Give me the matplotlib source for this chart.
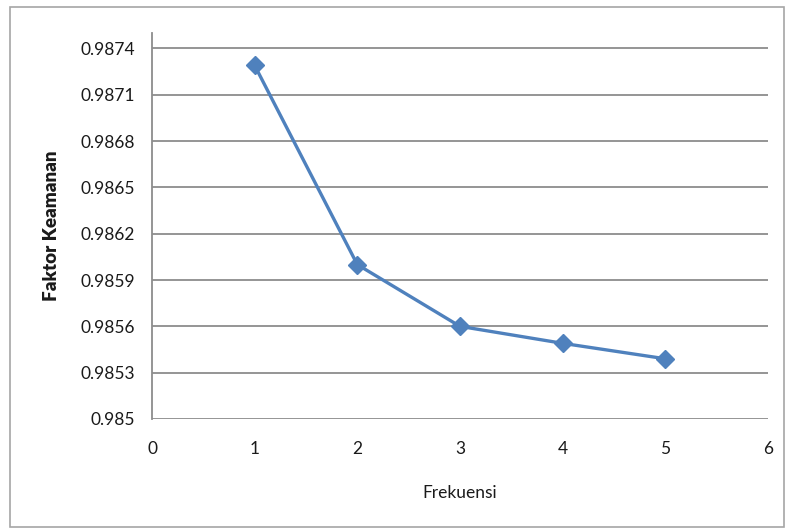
import numpy as np
import matplotlib.pyplot as plt
from matplotlib.patches import Rectangle

# Data
frekuensi = [1, 2, 3, 4, 5]
faktor_keamanan = [0.98729, 0.98600, 0.98560, 0.98549, 0.98539]
y_ticks = [0.985, 0.9853, 0.9856, 0.9859, 0.9862, 0.9865, 0.9868, 0.9871, 0.9874]
y_tick_labels = ['0.985', '0.9853', '0.9856', '0.9859', '0.9862', '0.9865', '0.9868', '0.9871', '0.9874']
x_ticks = [0, 1, 2, 3, 4, 5, 6]

plt.rcParams['font.family'] = ['Lato', 'DejaVu Sans']

fig = plt.figure(figsize=(7.86, 5.29), dpi=100)
ax = fig.add_axes([0.1934, 0.208, 0.977 - 0.1934, 0.9376 - 0.208])

# Outer chart border
fig.patches.append(Rectangle((10 / 786, 2 / 529), 774 / 786, 520 / 529, transform=fig.transFigure,
                             fill=False, edgecolor='#a6a6a6', linewidth=1.2))

ax.plot(frekuensi, faktor_keamanan, color='#4f81bd', linewidth=2.4,
        marker='D', markersize=9, markerfacecolor='#4f81bd', markeredgecolor='#4f81bd', zorder=3)

ax.set_xlim(0, 6)
ax.set_ylim(0.985, 0.98750)
ax.set_xticks(x_ticks)
ax.set_yticks(y_ticks)
ax.set_yticklabels(y_tick_labels)

for t in y_ticks:
    ax.axhline(t, color='#8c8c8c', linewidth=1.3, zorder=1)

for side in ['top', 'right', 'bottom']:
    ax.spines[side].set_visible(False)
ax.spines['left'].set_color('#8c8c8c')
ax.spines['left'].set_linewidth(1.3)

ax.tick_params(axis='both', length=0, labelsize=12.5, colors='#1a1a1a')
ax.tick_params(axis='y', pad=12)
ax.tick_params(axis='x', pad=16)

ax.set_xlabel('Frekuensi', fontsize=12.5, labelpad=20, color='#1a1a1a')
ax.set_ylabel('Faktor Keamanan', fontsize=13.5, fontweight='heavy', labelpad=15, color='#1a1a1a')

plt.savefig('out.png', dpi=100)
